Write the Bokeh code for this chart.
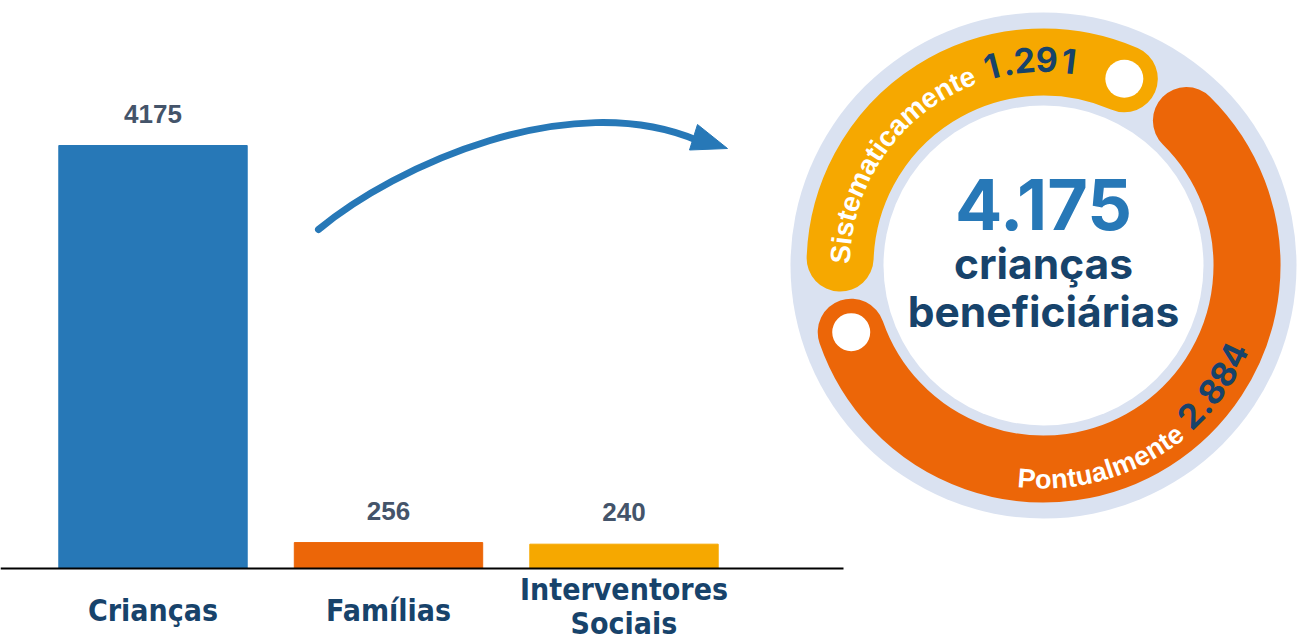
import numpy as np
from bokeh.plotting import figure
from bokeh.models import Range1d, ColumnDataSource, LabelSet
from bokeh.core.properties import value
from bokeh.embed import file_html
from bokeh.resources import INLINE

# ---------------- data ----------------
categories = ["Crianças", "Famílias", "Interventores\nSociais"]
counts = [4175, 256, 240]
bar_colors = ["#2778B7", "#EC6608", "#F6A800"]

ring_labels = ["Sistematicamente", "Pontualmente"]
ring_values = [1291, 2884]
ring_value_text = ["1.291", "2.884"]
ring_colors = ["#F6A800", "#EC6608"]
total_text = "4.175"
center_lines = ["crianças", "beneficiárias"]

# ---------------- style / layout ----------------
BLUE = "#2778B7"
NAVY = "#17436B"
GREY = "#44546A"
LAV = "#DAE2F1"

W, H = 1298, 641
BASE_Y = 568               # page y of the bars' baseline
BAR_STEP = 235.5           # px per category
BAR_C0 = 152.5             # page x of first category centre
PPU = 423 / 4175           # vertical px per count

x0 = (0 - BAR_C0) / BAR_STEP
x1 = (W - BAR_C0) / BAR_STEP
y0 = (BASE_Y - H) / PPU
y1 = BASE_Y / PPU

p = figure(width=W, height=H, x_range=Range1d(x0, x1), y_range=Range1d(y0, y1),
           output_backend="svg", toolbar_location=None,
           x_axis_location=None, y_axis_location=None,
           min_border=0, outline_line_color=None,
           background_fill_color="white", border_fill_color="white")
p.xgrid.visible = False
p.ygrid.visible = False

# page-pixel coordinate system for the decorations (y up)
p.extra_x_ranges = {"px": Range1d(0, W)}
p.extra_y_ranges = {"py": Range1d(0, H)}
PX = dict(x_range_name="px", y_range_name="py")

# ---------------- bars ----------------
xs = list(range(len(categories)))
label_y = [(BASE_Y - (610 - 4 * c.count("\n"))) / PPU for c in categories]
src = ColumnDataSource(dict(x=xs, top=counts, color=bar_colors,
                            label=[str(c) for c in counts],
                            cat=categories, laby=label_y))
p.vbar(x="x", top="top", bottom=0, width=0.8, color="color", source=src)

# baseline (category axis line)
p.segment(x0=[x0], y0=[0], x1=[(843 - BAR_C0) / BAR_STEP], y1=[0],
          line_color="black", line_width=2)

p.add_layout(LabelSet(x="x", y="top", text="label", source=src, y_offset=23,
                      text_align="center", text_baseline="alphabetic",
                      text_font=value("Liberation Sans"), text_font_style="bold",
                      text_font_size="26px", text_color=GREY))
p.text(x="x", y="laby", text="cat", source=src,
       text_align="center", text_baseline="middle",
       text_font=value("DejaVu Sans Condensed"), text_font_style="bold",
       text_font_size="30px", text_color=NAVY, text_line_height=0.95)

# ---------------- arrow ----------------
def fy(y):
    return H - y

p.bezier(x0=[318], y0=[fy(229)], x1=[697], y1=[fy(140)],
         cx0=[395], cy0=[fy(165)], cx1=[570], cy1=[fy(86)],
         line_color=BLUE, line_width=7, line_cap="round", **PX)
p.patch(x=[727, 697, 689], y=[fy(148), fy(124), fy(149.5)],
        fill_color=BLUE, line_color=BLUE, **PX)

# ---------------- ring ----------------
cx, cy = 1043, fy(265)
R_MID, BAND = 203.5, 67
p.circle(x=[cx], y=[cy], radius=253, fill_color=LAV, line_color=None, **PX)
p.circle(x=[cx], y=[cy], radius=160, fill_color="white", line_color=None, **PX)

total = sum(ring_values)
gap = 21.2
y_end = 66.6
span_y = 360 * ring_values[0] / total
span_o = 360 * ring_values[1] / total - 2 * gap
y_start = y_end + span_y
o_start = y_start + gap
o_end = o_start + span_o

p.arc(x=[cx], y=[cy], radius=R_MID, start_angle=np.radians(y_end),
      end_angle=np.radians(y_start), direction="anticlock",
      line_color=ring_colors[0], line_width=BAND, line_cap="round", **PX)
p.arc(x=[cx], y=[cy], radius=R_MID, start_angle=np.radians(o_start - 360),
      end_angle=np.radians(o_end - 360), direction="anticlock",
      line_color=ring_colors[1], line_width=BAND, line_cap="round", **PX)

for ang in (y_end, o_start):
    p.circle(x=[cx + R_MID * np.cos(np.radians(ang))],
             y=[cy + R_MID * np.sin(np.radians(ang))],
             radius=19, fill_color="white", line_color=None, **PX)

# text along the arcs
AW = {'S': 667, 'i': 278, 's': 556, 't': 333, 'e': 556, 'm': 889, 'a': 556,
      'c': 556, 'n': 611, 'P': 667, 'o': 611, 'u': 611, 'l': 278, ' ': 278, '.': 278}


def arc_text(segments, theta0, r_adv, clockwise):
    s = 0.0
    for text, adv, size, color, font, r_pos in segments:
        xs_, ys_, ts_, an_ = [], [], [], []
        for ch in text:
            w = AW.get(ch, 556) / 1000 * adv
            mid = s + w / 2
            d = np.degrees(mid / r_adv)
            th = theta0 - d if clockwise else theta0 + d
            rot = th - 90 if clockwise else th + 90
            if ch != " ":
                xs_.append(cx + r_pos * np.cos(np.radians(th)))
                ys_.append(cy + r_pos * np.sin(np.radians(th)))
                ts_.append(ch)
                an_.append(np.radians(rot))
            s += w
        p.text(x=xs_, y=ys_, text=ts_, angle=an_, text_align="center",
               text_baseline="middle", text_font=value(font),
               text_font_style="bold", text_font_size=size,
               text_color=color, **PX)


arc_text([(ring_labels[0] + " ", 28, "28px", "white", "Liberation Sans", 203),
          (ring_value_text[0], 38, "34px", NAVY, "Inter", 206)],
         y_start + 1.6, 196, clockwise=True)
arc_text([(ring_labels[1] + " ", 27, "27px", "white", "Liberation Sans", 214),
          (ring_value_text[1], 40, "34px", NAVY, "Inter", 210)],
         o_start + 64.0, 220, clockwise=False)

# centre texts
p.text(x=[cx], y=[fy(204)], text=[total_text], text_align="center",
       text_baseline="middle", text_font=value("Inter"), text_font_style="bold",
       text_font_size="70px", text_color=BLUE, **PX)
p.text(x=[cx, cx], y=[fy(263), fy(311)], text=center_lines, text_align="center",
       text_baseline="middle", text_font=value("Inter"), text_font_style="bold",
       text_font_size="42.5px", text_color=NAVY, **PX)

open("out.html", "w").write(file_html(p, INLINE))
